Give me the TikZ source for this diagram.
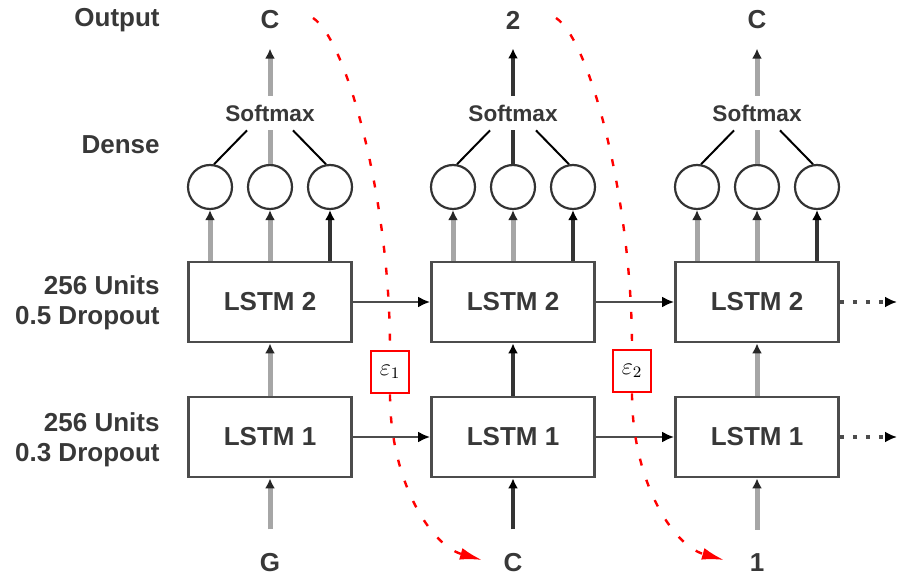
\documentclass[tikz,border=0pt]{standalone}
\usepackage{fontspec}
\setmainfont{Liberation Sans}
\usetikzlibrary{arrows.meta,calc}
\begin{document}
\begin{tikzpicture}[x=0.5pt,y=-0.5pt,
  lbl/.style={font=\fontsize{13pt}{15pt}\selectfont\bfseries, inner sep=0pt, text=black!78},
  lstm/.style={draw=black!70, line width=1.4pt, minimum width=81.5pt, minimum height=40pt, inner sep=0pt, font=\fontsize{13pt}{15pt}\selectfont\bfseries, text=black!78},
  neuron/.style={circle, draw=black!80, line width=1.1pt, minimum size=22pt, inner sep=0pt},
  smx/.style={font=\fontsize{11.3pt}{13pt}\selectfont\bfseries, minimum height=17pt, inner sep=0pt, text=black!78},
  gl/.style={draw=black!35, line width=2.5pt},
  dl/.style={draw=black!80, line width=1.6pt},
  ga/.style={gl, -{Latex[black!85,length=5pt,width=5pt]}},
  da/.style={dl, -{Latex[black,length=5pt,width=5pt]}},
  ha/.style={draw=black!70, line width=1.4pt, -{Latex[black,length=6pt,width=5.5pt]}},
  dota/.style={ha, line width=1.6pt, dash pattern=on 2pt off 4.5pt},
  tline/.style={draw=black, line width=1pt},
  eps/.style={draw=red, line width=1.4pt, fill=white, minimum width=19pt, minimum height=21pt, inner sep=0pt, font=\fontsize{12pt}{14pt}\selectfont},
  redl/.style={draw=red, line width=1.2pt, dash pattern=on 3.5pt off 7.5pt},
  redc/.style={redl, -{Latex[red,length=11pt,width=6pt]}},
]
\useasboundingbox (0,0) rectangle (898,576);

% left labels
\node[lbl, anchor=east] (outl) at (160,20) {Output};
\node[lbl, anchor=east] (denl) at (160,145) {Dense};
\node[lbl, anchor=east, align=right] (u2) at (160,303) {256 Units\\0.5 Dropout};
\node[lbl, anchor=east, align=right] (u1) at (160,440) {256 Units\\0.3 Dropout};

\foreach \i/\x/\outc/\inc/\st/\sl in {1/270/C/G/ga/gl, 2/513/2/C/da/dl, 3/757/C/1/ga/gl}{
  \node[lbl] (o\i) at (\x,20) {\outc};
  \node[neuron] (na\i) at (\x-60,187) {};
  \node[neuron] (nb\i) at (\x,187) {};
  \node[neuron] (nc\i) at (\x+60,187) {};
  \node[smx] (sm\i) at (\x,113) {Softmax};
  \node[lstm] (lb\i) at (\x,302) {LSTM 2};
  \node[lstm] (la\i) at (\x,437) {LSTM 1};
  \node[lbl] (in\i) at (\x,563) {\inc};
  \draw[ga] (lb\i.north -| na\i) -- (na\i);
  \draw[ga] (lb\i.north) -- (nb\i);
  \draw[da] (lb\i.north -| nc\i) -- (nc\i);
  \draw[\st] (la\i) -- (lb\i);
  \draw[\st, shorten <=12pt] (in\i) -- (la\i);
  \draw[\sl] (nb\i) -- (sm\i);
  \draw[\st, shorten >=9.5pt] (sm\i) -- (o\i);
  \draw[tline] (na\i.80) -- ($(sm\i.south)+(-23,0)$);
  \draw[tline] (nc\i.100) -- ($(sm\i.south)+(23,0)$);
}

\draw[ha] (lb1) -- (lb2);
\draw[ha] (lb2) -- (lb3);
\draw[ha] (la1) -- (la2);
\draw[ha] (la2) -- (la3);
\coordinate (d2) at (897,302);
\coordinate (d1) at (897,437);
\draw[dota] (lb3) -- (d2);
\draw[dota] (la3) -- (d1);

% red noise paths
\node[eps] (e1) at (390,372) {$\varepsilon_1$};
\node[eps] (e2) at (632,371) {$\varepsilon_2$};
\coordinate (s1) at (313,18);
\coordinate (t1) at (482,560);
\coordinate (s2) at (556,18);
\coordinate (t2) at (724,560);
\draw[redl] (s1) .. controls (347,40) and (390,200) .. (e1.north);
\draw[redc] (e1.south) .. controls (390,480) and (430,545) .. (t1);
\draw[redl] (s2) .. controls (590,40) and (632,200) .. (e2.north);
\draw[redc] (e2.south) .. controls (632,480) and (672,545) .. (t2);
\end{tikzpicture}
\end{document}
